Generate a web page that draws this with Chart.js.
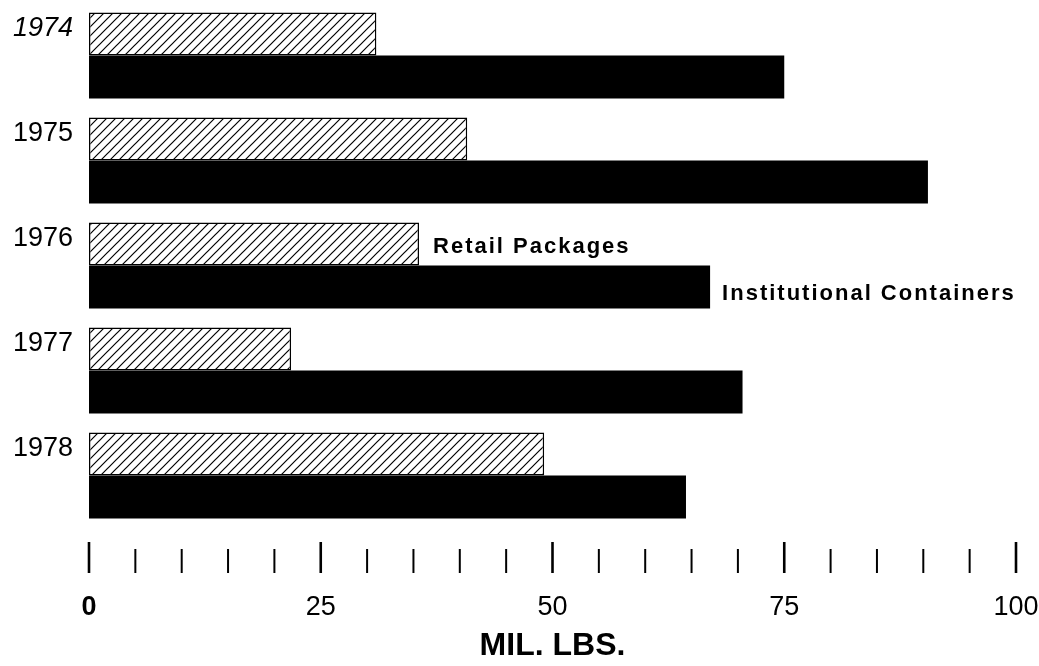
<!DOCTYPE html>
<html>
<head>
<meta charset="utf-8">
<script src="https://cdn.jsdelivr.net/npm/chart.js@4"></script>
<style>
    html, body { margin: 0; padding: 0; background: #fff; }
    #wrap { width: 1039px; height: 666px; position: relative; }
</style>
</head>
<body>
<div id="wrap"><canvas id="chart"></canvas></div>
<script>
// Retail vs institutional, million pounds
const years = ['1974', '1975', '1976', '1977', '1978'];
const retailPackages = [31, 40.8, 35.6, 21.8, 49.1];
const institutionalContainers = [75, 90.5, 67, 70.5, 64.4];
const axisTicks = [0, 5, 10, 15, 20, 25, 30, 35, 40, 45, 50, 55, 60, 65, 70, 75, 80, 85, 90, 95, 100];
const labelledTicks = [0, 25, 50, 75, 100];

const FONT = '"Liberation Sans", Arial, sans-serif';

// diagonal hatch fill for the retail bars
function makeHatch() {
    const size = 9;
    const c = document.createElement('canvas');
    c.width = size;
    c.height = size;
    const g = c.getContext('2d');
    g.fillStyle = '#fff';
    g.fillRect(0, 0, size, size);
    g.strokeStyle = '#000';
    g.lineWidth = 1.2;
    g.beginPath();
    g.moveTo(-1, size + 1);
    g.lineTo(size + 1, -1);
    g.moveTo(-1, 1);
    g.lineTo(1, -1);
    g.moveTo(size - 1, size + 1);
    g.lineTo(size + 1, size - 1);
    g.stroke();
    return g.createPattern(c, 'repeat');
}

// tick marks under the bars, long ones at the labelled values
const tickMarks = {
    id: 'tickMarks',
    afterDraw(chart) {
        const ctx = chart.ctx;
        const x = chart.scales.x;
        ctx.save();
        ctx.strokeStyle = '#000';
        axisTicks.forEach(v => {
            const px = x.getPixelForValue(v);
            const major = labelledTicks.includes(v);
            ctx.lineWidth = major ? 2.6 : 2;
            ctx.beginPath();
            ctx.moveTo(px, x.top + (major ? 14 : 21));
            ctx.lineTo(px, x.top + 45);
            ctx.stroke();
        });
        ctx.restore();
    }
};

// year labels beside the hatched bars, and the two series names
const barLabels = {
    id: 'barLabels',
    afterDatasetsDraw(chart) {
        const ctx = chart.ctx;
        const retail = chart.getDatasetMeta(0).data;
        const inst = chart.getDatasetMeta(1).data;
        ctx.save();
        ctx.fillStyle = '#000';
        ctx.textAlign = 'right';
        ctx.textBaseline = 'middle';
        years.forEach((y, i) => {
            ctx.font = (i === 0 ? 'italic ' : '') + '27px ' + FONT;
            ctx.fillText(y, 73, retail[i].y - 5);
        });

        ctx.textAlign = 'left';
        ctx.font = 'bold 22px ' + FONT;
        ctx.letterSpacing = '2px';
        ctx.fillText('Retail Packages', retail[2].x + 14, retail[2].y + 3);
        ctx.fillText('Institutional Containers', inst[2].x + 12, inst[2].y + 7);
        ctx.restore();
    }
};

new Chart(document.getElementById('chart'), {
    type: 'bar',
    data: {
        labels: years,
        datasets: [
            {
                label: 'Retail Packages',
                data: retailPackages,
                backgroundColor: makeHatch(),
                borderColor: '#000',
                borderWidth: 1.5,
                borderSkipped: false
            },
            {
                label: 'Institutional Containers',
                data: institutionalContainers,
                backgroundColor: '#000',
                borderWidth: 0
            }
        ]
    },
    options: {
        indexAxis: 'y',
        responsive: true,
        maintainAspectRatio: false,
        animation: false,
        datasets: {
            bar: { categoryPercentage: 0.82, barPercentage: 1.0 }
        },
        layout: {
            padding: { top: 3, left: 89, right: 23, bottom: 0 }
        },
        plugins: {
            legend: { display: false },
            tooltip: { enabled: false }
        },
        scales: {
            y: {
                display: false
            },
            x: {
                min: 0,
                max: 100,
                afterFit(scale) {
                    scale.height = 138;
                    scale.paddingLeft = 0;
                    scale.paddingRight = 0;
                },
                grid: { display: false, drawTicks: false },
                border: { display: false },
                afterBuildTicks(scale) {
                    scale.ticks = labelledTicks.map(v => ({ value: v }));
                },
                ticks: {
                    autoSkip: false,
                    maxRotation: 0,
                    padding: 63,
                    color: '#000',
                    font: ctx => ({
                        family: FONT,
                        size: 27,
                        weight: ctx.tick && ctx.tick.value === 0 ? 'bold' : 'normal'
                    })
                },
                title: {
                    display: true,
                    text: 'MIL. LBS.',
                    color: '#000',
                    font: { family: FONT, size: 32, weight: 'bold' },
                    padding: { top: 0, bottom: 1 }
                }
            }
        }
    },
    plugins: [tickMarks, barLabels]
});
</script>
</body>
</html>
